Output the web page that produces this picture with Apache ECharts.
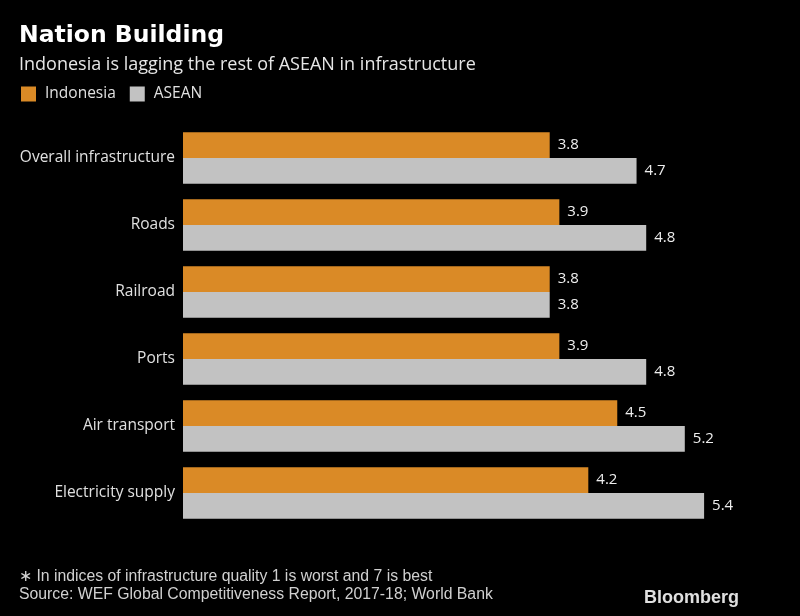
<!DOCTYPE html>
<html>
<head>
<meta charset="utf-8">
<script src="https://cdn.jsdelivr.net/npm/echarts@6/dist/echarts.min.js"></script>
<style>html,body{margin:0;padding:0;background:#000;}#c{width:800px;height:616px;}</style>
</head>
<body>
<div id="c"></div>
<script>
const categories = ["Overall infrastructure", "Roads", "Railroad", "Ports", "Air transport", "Electricity supply"];
const indonesia = [3.8, 3.9, 3.8, 3.9, 4.5, 4.2];
const asean = [4.7, 4.8, 3.8, 4.8, 5.2, 5.4];
const seriesNames = ["Indonesia", "ASEAN"];

const chart = echarts.init(document.getElementById('c'), null, {renderer: 'canvas'});
const labelFont = '"Open Sans", sans-serif';
const footFont = '"Liberation Sans Narrow", sans-serif';
chart.setOption({
  backgroundColor: '#000',
  animation: false,
  title: [
    {text: 'Nation Building', left: 19, top: 24, padding: 0, textStyle: {color: '#fff', fontSize: 23.5, fontWeight: 'bold', fontFamily: '"DejaVu Sans", sans-serif'}},
    {text: 'Indonesia is lagging the rest of ASEAN in infrastructure', left: 19, top: 56, padding: 0, textStyle: {color: '#e6e6e6', fontSize: 18, fontWeight: 'normal', fontFamily: labelFont}},
    {text: '\u2217 In indices of infrastructure quality 1 is worst and 7 is best', left: 19, top: 569, padding: 0, textStyle: {color: '#d0d0d0', fontSize: 15.8, fontWeight: 'normal', fontFamily: footFont}},
    {text: 'Source: WEF Global Competitiveness Report, 2017-18; World Bank', left: 19, top: 587, padding: 0, textStyle: {color: '#d0d0d0', fontSize: 15.8, fontWeight: 'normal', fontFamily: footFont}},
    {text: 'Bloomberg', left: 644, top: 589, padding: 0, textStyle: {color: '#e0e0e0', fontSize: 18, fontWeight: 'bold', fontFamily: '"Liberation Sans", sans-serif'}}
  ],
  legend: {
    left: 21, top: 86, padding: 0, itemWidth: 15, itemHeight: 15, itemGap: 14, icon: 'rect',
    textStyle: {color: '#e0e0e0', fontSize: 15.5, fontFamily: labelFont, padding: [0, 0, 0, 4]},
    data: seriesNames
  },
  grid: {left: 183, top: 124.5, width: 579, height: 402, containLabel: false},
  xAxis: {type: 'value', min: 0, max: 6, show: false},
  yAxis: {
    type: 'category', data: categories, inverse: true,
    axisLine: {show: false}, axisTick: {show: false},
    axisLabel: {color: '#e0e0e0', fontSize: 15.5, margin: 8, fontFamily: labelFont}
  },
  series: [
    {name: seriesNames[0], type: 'bar', data: indonesia, barWidth: 25.7, barGap: '0%',
     itemStyle: {color: '#DA8A26'},
     label: {show: true, position: 'right', distance: 8, color: '#eee', fontSize: 15, fontFamily: labelFont, formatter: p => p.value.toFixed(1)}},
    {name: seriesNames[1], type: 'bar', data: asean, barWidth: 25.7, barGap: '0%',
     itemStyle: {color: '#C2C2C2'},
     label: {show: true, position: 'right', distance: 8, color: '#eee', fontSize: 15, fontFamily: labelFont, formatter: p => p.value.toFixed(1)}}
  ]
});
</script>
</body>
</html>
